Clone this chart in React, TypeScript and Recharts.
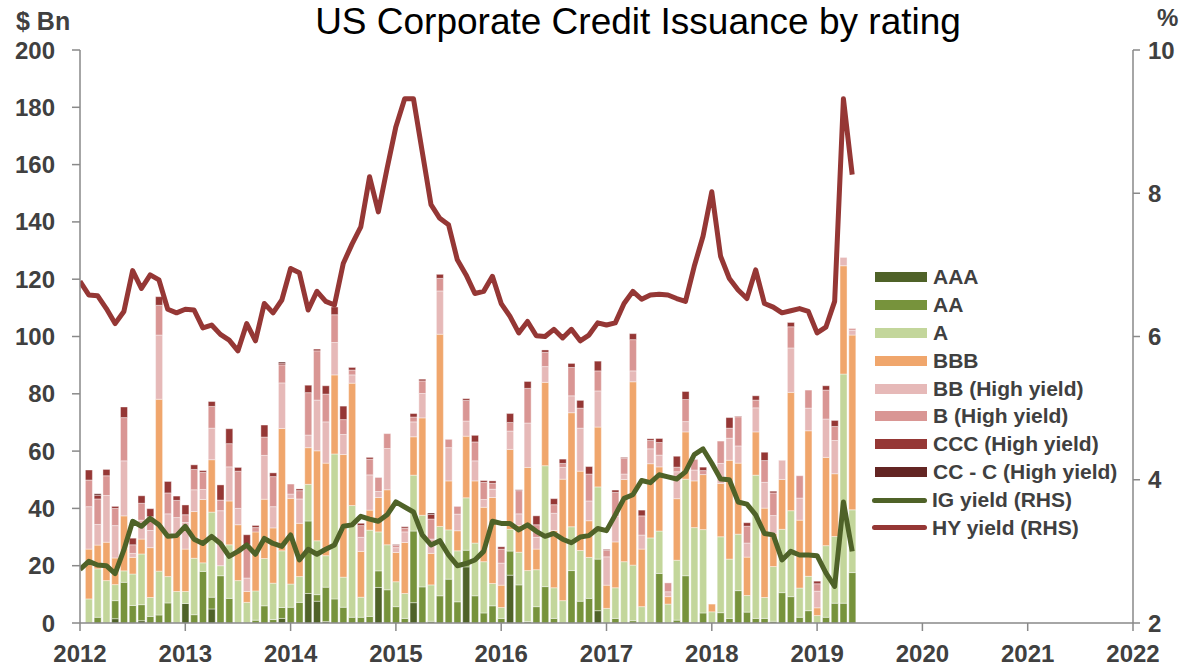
import { Bar, ComposedChart, Line, XAxis, YAxis } from "recharts";

// monthly issuance, Jan 2012 .. Apr 2019 ($ Bn)
const YEARS = [2012, 2013, 2014, 2015, 2016, 2017, 2018, 2019, 2020, 2021, 2022];

const AAA = [
  0, 0, 0, 1.5, 0, 0, 0.8, 0, 0, 0, 0, 6.8, 0, 0, 4.9, 0, 0, 0, 0, 0, 0, 0,
  1.6, 0, 0, 10.3, 7.6, 0.5, 0, 0, 0, 0, 0, 12.4, 0, 0, 0, 7.1, 0, 0, 0, 0, 0, 19.6,
  0, 0, 0, 0, 16.7, 0, 0, 0, 0, 0, 0, 0, 0, 0, 4.3, 0, 0, 0, 0, 0, 0, 0,
  0, 0, 0, 0, 0, 0, 0, 0, 0, 0, 0, 0, 0, 0, 0, 0, 0, 0, 0, 0, 0, 0,
];
const AA = [
  0, 2, 0, 6.3, 14.2, 6.1, 5.6, 2.3, 2.8, 7, 0, 0, 2.9, 18, 4.1, 16.5, 8.6, 0, 0, 1, 6, 1.2,
  3.8, 5.5, 7.2, 25.3, 2.3, 12, 8.4, 5.5, 2, 2, 2.3, 5.8, 11.6, 5.7, 1.6, 25, 12.6, 0.6, 9.5, 15.3, 7.4, 5.8,
  9.5, 3.5, 6, 1.6, 8.4, 13.3, 0.5, 5.7, 12.7, 1.6, 0, 18.3, 7.6, 8.6, 18, 0, 1.6, 0, 0.8, 0, 0, 17.3,
  0, 1, 16.5, 0, 3.5, 0, 3.6, 1.6, 11.3, 3.8, 1.6, 1.6, 0.6, 10.6, 9.2, 2, 4.3, 0, 2, 6.9, 6.9, 17.6,
];
const A = [
  8.4, 16.9, 14.8, 5.6, 4, 11, 17.7, 6.6, 15.3, 9.2, 11, 4.2, 19.7, 3, 29.7, 3.5, 18.7, 14.8, 7.2, 10.2, 16.5, 12.7,
  19.8, 8.1, 9, 12.8, 18.8, 11, 50.6, 10.5, 39, 7, 30.1, 13.6, 15.7, 8.7, 8.7, 19.5, 25, 12.7, 24.2, 17.2, 17.8, 18.3,
  18.4, 17.9, 7.8, 3.8, 7.6, 11.4, 17.8, 12.9, 42.2, 10.7, 7.8, 15.3, 17.7, 14.3, 25.2, 5.1, 10.7, 21.4, 19.4, 5.7, 29.7, 14.8,
  6.6, 20.9, 33.7, 33.3, 29.1, 3.9, 26.5, 20.7, 19.7, 5.8, 50, 7.3, 19.1, 22.1, 30, 10.2, 12, 2.6, 25, 23.3, 80, 21.9,
];
const BBB = [
  17.4, 8.3, 13.4, 9.3, 19.2, 5.8, 5.2, 17.4, 60, 14.9, 19.4, 14.8, 16.3, 22.1, 18.3, 0, 15.3, 19.5, 3.8, 20.6, 20.7, 19.3,
  42.7, 29.9, 18.6, 12.8, 31.4, 32.3, 27.6, 42.8, 42.7, 16, 7, 12, 19.2, 10.2, 17.8, 13.4, 34, 11, 67.1, 17.1, 7, 21.5,
  21.7, 19, 30, 7.8, 27.9, 9.3, 36, 7.2, 29.1, 20, 42.4, 39.8, 27.7, 12.8, 20.9, 8.1, 16, 28.7, 64, 20.1, 25.9, 22.4,
  2.6, 21.5, 16.5, 16.3, 19.2, 2.7, 18.6, 34.5, 24.8, 13.4, 15.1, 31.2, 11.6, 17.4, 41.3, 23.7, 50.8, 2.7, 30.8, 21.9, 37.8, 61,
];
const BB = [
  14.8, 7.2, 16.3, 11.3, 19.2, 1.4, 6.6, 6, 22.4, 7, 6.4, 9.3, 7.6, 3.5, 11, 19.2, 11.9, 5.7, 4.7, 0, 15.3, 7.4,
  15.9, 1.5, 8.5, 4.4, 17.7, 14.4, 11.3, 7, 2.9, 4.9, 12.3, 2.1, 14.4, 1.7, 3.7, 5.2, 8.5, 5, 15.1, 11.6, 5.8, 5.3,
  7, 2.7, 2.9, 7.7, 6.4, 4.1, 15.5, 4.1, 5.5, 6, 4.1, 5.9, 15, 6.9, 12.6, 9.9, 9, 1.9, 3.8, 4.9, 5.2, 4.1,
  1.7, 9.4, 3.6, 3.8, 0, 0, 7, 7.7, 6, 4.9, 8.4, 9, 6.2, 6.7, 15.5, 7.7, 7.9, 5.8, 13.4, 11.6, 2.9, 1.7,
];
const B = [
  9.3, 8.9, 6.9, 6, 15.1, 3, 5.9, 4.8, 10.4, 7.3, 6, 2.7, 7.1, 6, 7.6, 3.7, 8.1, 13, 11.6, 1.5, 6.4, 10.5,
  6.3, 3.5, 2.9, 14.8, 17.2, 9.7, 9.7, 5.2, 1.7, 4.1, 5.5, 4.9, 5.2, 0.8, 1.3, 1.7, 4.4, 7, 4.4, 2.9, 2.7, 7.2,
  6.6, 6, 2.1, 4.9, 3, 8.1, 12.1, 4.4, 5, 3, 1.4, 9.9, 7, 9.4, 7, 2.3, 8.3, 5.5, 10.9, 6.7, 2.9, 4.4,
  3.1, 1.6, 7.7, 3.7, 1.4, 0, 7.8, 3.5, 10.2, 5.9, 2.7, 7.6, 7.9, 0, 7.4, 7.8, 6.3, 2.6, 10.1, 4.9, 0, 0.6,
];
const CCC = [
  3.5, 1.3, 2.2, 0.7, 3.7, 2.3, 2.6, 2.8, 3, 4, 1.5, 3.4, 1.6, 0.6, 1.7, 5.3, 5.2, 1.3, 3.5, 0.7, 4.2, 1.3,
  0.6, 0, 0.6, 2.6, 0.6, 2.9, 2.7, 4.7, 0.9, 0.8, 0.6, 0, 0, 0.3, 0.5, 1.2, 0.6, 1.6, 1.4, 0, 0, 0.6,
  2.3, 0.6, 0.8, 0.8, 3.1, 0.3, 2.4, 3.1, 0.8, 2.1, 1.5, 1.4, 2.7, 2.6, 3.4, 0.3, 0.8, 0.3, 2.1, 2, 0.6, 1.4,
  0, 3.8, 2.8, 0, 1.2, 0, 0, 3.7, 0.2, 1.2, 1.5, 2.9, 0.6, 0, 1.5, 0, 0, 0.9, 1.5, 2.1, 0, 0,
];
const CC_C = [
  0, 0.5, 0, 0, 0, 0, 0, 0, 0, 0, 0, 0, 0, 0, 0, 0, 0, 0, 0, 0, 0, 0,
  0.4, 0, 0, 0, 0, 0, 0, 0, 0, 0, 0, 0, 0, 0, 0, 0, 0, 0.5, 0, 0, 0, 0,
  0, 0, 0, 0, 0, 0, 0, 0, 0, 0, 0, 0, 0, 0, 0, 0, 0, 0, 0, 0, 0, 0,
  0, 0, 0, 0, 0, 0, 0, 0, 0, 0, 0, 0, 0, 0, 0, 0, 0, 0, 0, 0, 0, 0,
];

// month-end yields (%), Dec 2011 .. Apr 2019
const IG_YIELD = [
  2.75, 2.86, 2.81, 2.8, 2.69, 3.02, 3.42, 3.35, 3.46, 3.37, 3.21, 3.22, 3.35, 3.17, 3.11, 3.21, 3.11, 2.93, 3.0, 3.09, 2.96, 3.18, 3.11,
  3.07, 3.23, 2.88, 3.03, 2.96, 3.03, 3.09, 3.35, 3.37, 3.49, 3.45, 3.42, 3.51, 3.69, 3.62, 3.55, 3.23, 3.09, 3.15, 2.95, 2.8, 2.83,
  2.88, 3.0, 3.42, 3.39, 3.39, 3.3, 3.37, 3.28, 3.21, 3.25, 3.17, 3.12, 3.2, 3.22, 3.32, 3.29, 3.51, 3.74, 3.79, 3.99, 3.96, 4.07,
  4.04, 4.01, 4.11, 4.35, 4.43, 4.23, 4.01, 4.0, 3.69, 3.66, 3.51, 3.25, 3.23, 2.88, 3.0, 2.95, 2.95, 2.94, 2.7, 2.51, 3.69, 3.0,
];
const HY_YIELD = [
  6.77, 6.58, 6.57, 6.39, 6.18, 6.35, 6.92, 6.67, 6.86, 6.79, 6.38, 6.33, 6.38, 6.37, 6.12, 6.16, 6.03, 5.95, 5.8, 6.18, 5.94, 6.46, 6.33,
  6.51, 6.95, 6.89, 6.37, 6.63, 6.49, 6.44, 7.02, 7.29, 7.53, 8.23, 7.74, 8.35, 8.93, 9.32, 9.32, 8.58, 7.84, 7.65, 7.56, 7.07, 6.86,
  6.6, 6.63, 6.84, 6.46, 6.28, 6.05, 6.21, 6.01, 6.0, 6.1, 5.98, 6.1, 5.94, 6.02, 6.19, 6.16, 6.19, 6.46, 6.63, 6.52, 6.58, 6.59,
  6.58, 6.53, 6.49, 6.98, 7.4, 8.02, 7.12, 6.81, 6.65, 6.53, 6.93, 6.46, 6.41, 6.33, 6.36, 6.39, 6.35, 6.05, 6.13, 6.49, 9.32, 8.26,
];

const SERIES = [
  { key: "aaa", name: "AAA", color: "#4f6228", values: AAA },
  { key: "aa", name: "AA", color: "#77933c", values: AA },
  { key: "a", name: "A", color: "#c3d69b", values: A },
  { key: "bbb", name: "BBB", color: "#f0a66c", values: BBB },
  { key: "bb", name: "BB (High yield)", color: "#e6b9b8", values: BB },
  { key: "b", name: "B (High yield)", color: "#d99694", values: B },
  { key: "ccc", name: "CCC (High yield)", color: "#953735", values: CCC },
  { key: "ccc_c", name: "CC - C (High yield)", color: "#632523", values: CC_C },
];

const LINES = [
  { key: "ig", name: "IG yield (RHS)", color: "#4f6228" },
  { key: "hy", name: "HY yield (RHS)", color: "#953735" },
];

// x = months since Jan 2012; bars sit at month end
const data = IG_YIELD.map((ig, j) => {
  const row: Record<string, number> = { x: j, ig, hy: HY_YIELD[j] };
  if (j > 0) SERIES.forEach((s) => (row[s.key] = s.values[j - 1]));
  return row;
});

const FONT = "'Liberation Sans', Arial, sans-serif";
const AXIS_GREY = "#898989";
const LABEL = { fill: "#404040", fontSize: 24, fontWeight: 700, fontFamily: FONT };

function LegendBox() {
  const items = [...SERIES.map((s) => ({ ...s, line: false })), ...LINES.map((l) => ({ ...l, line: true }))];
  return (
    <div style={{ position: "absolute", left: 872, top: 263 }}>
      {items.map((it) => (
        <div key={it.key} style={{ display: "flex", alignItems: "center", height: 27.9 }}>
          <div
            style={
              it.line
                ? { width: 55, height: 5, borderRadius: 3, background: it.color, marginLeft: 0 }
                : { width: 52, height: 10, background: it.color, marginLeft: 3 }
            }
          />
          <span
            style={{
              marginLeft: it.line ? 5 : 6,
              fontFamily: FONT,
              fontWeight: 700,
              fontSize: 21,
              color: "#404040",
              whiteSpace: "nowrap",
            }}
          >
            {it.name}
          </span>
        </div>
      ))}
    </div>
  );
}

export default function App() {
  return (
    <div style={{ position: "absolute", left: 0, top: 0, width: 1185, height: 668, background: "#fff" }}>
      <div
        style={{
          position: "absolute",
          left: 638,
          top: 3,
          transform: "translateX(-50%)",
          fontFamily: FONT,
          fontSize: 37,
          lineHeight: "37px",
          color: "#000",
          whiteSpace: "nowrap",
        }}
      >
        US Corporate Credit Issuance by rating
      </div>
      <div style={{ position: "absolute", left: 16, top: 9, fontFamily: FONT, fontWeight: 700, fontSize: 25, lineHeight: "25px", color: "#404040" }}>
        $ Bn
      </div>
      <div style={{ position: "absolute", left: 1157, top: 6, fontFamily: FONT, fontWeight: 700, fontSize: 24, lineHeight: "24px", color: "#404040" }}>
        %
      </div>

      <ComposedChart width={1185} height={668} data={data} margin={{ top: 50, right: 0, bottom: 0, left: 0 }}>
        <XAxis
          type="number"
          dataKey="x"
          domain={[0, 120]}
          ticks={YEARS.map((_, k) => k * 12)}
          interval={0}
          tickFormatter={(v: number) => String(YEARS[0] + v / 12)}
          allowDataOverflow
          height={45}
          stroke={AXIS_GREY}
          strokeWidth={1.5}
          tickSize={8}
          tickMargin={14}
          tick={LABEL}
        />
        <YAxis
          yAxisId="left"
          domain={[0, 200]}
          ticks={[0, 20, 40, 60, 80, 100, 120, 140, 160, 180, 200]}
          width={80}
          stroke={AXIS_GREY}
          strokeWidth={1.5}
          tickSize={8}
          tickMargin={17}
          tick={LABEL}
        />
        <YAxis
          yAxisId="right"
          orientation="right"
          domain={[2, 10]}
          ticks={[2, 4, 6, 8, 10]}
          width={52}
          stroke={AXIS_GREY}
          strokeWidth={1.5}
          tickSize={7}
          tickMargin={8}
          tick={{ ...LABEL, textAnchor: "start" }}
        />
        {SERIES.map((s) => (
          <Bar
            key={s.key}
            yAxisId="left"
            dataKey={s.key}
            name={s.name}
            stackId="issuance"
            fill={s.color}
            stroke="#ffffff"
            strokeWidth={0.4}
            barSize={7}
            isAnimationActive={false}
          />
        ))}
        {LINES.map((l) => (
          <Line
            key={l.key}
            yAxisId="right"
            type="linear"
            dataKey={l.key}
            name={l.name}
            stroke={l.color}
            strokeWidth={5}
            strokeLinejoin="round"
            dot={false}
            activeDot={false}
            isAnimationActive={false}
          />
        ))}
      </ComposedChart>
      <LegendBox />
    </div>
  );
}
